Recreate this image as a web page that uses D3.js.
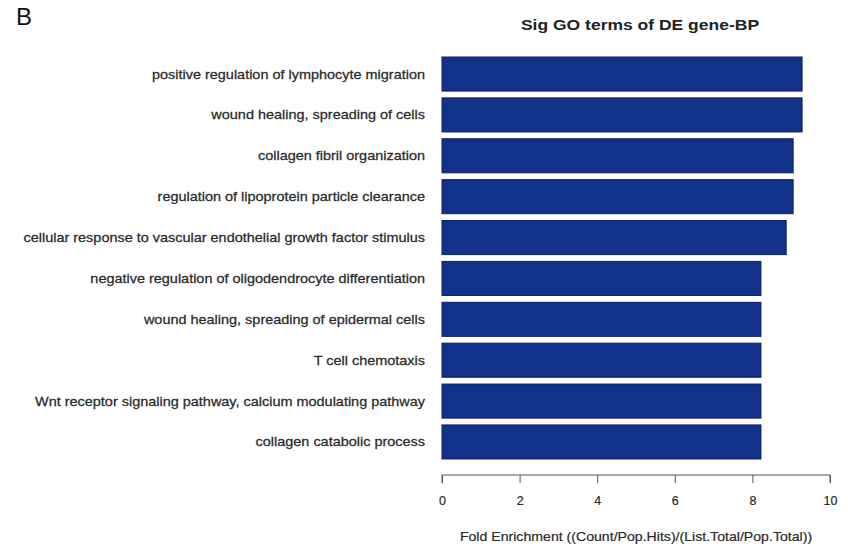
<!DOCTYPE html>
<html>
<head>
<meta charset="utf-8">
<script src="https://cdn.jsdelivr.net/npm/d3@7"></script>
<style>
  html, body { margin: 0; padding: 0; background: #fff; }
  svg { display: block; font-family: "Liberation Sans", Arial, sans-serif; }
</style>
</head>
<body>
<svg id="chart" width="848" height="550"></svg>
<script>
// GO biological process terms, top to bottom
const terms = [
  "positive regulation of lymphocyte migration",
  "wound healing, spreading of cells",
  "collagen fibril organization",
  "regulation of lipoprotein particle clearance",
  "cellular response to vascular endothelial growth factor stimulus",
  "negative regulation of oligodendrocyte differentiation",
  "wound healing, spreading of epidermal cells",
  "T cell chemotaxis",
  "Wnt receptor signaling pathway, calcium modulating pathway",
  "collagen catabolic process"
];
// Fold enrichment per term
const foldEnrichment = [9.28, 9.28, 9.05, 9.05, 8.87, 8.22, 8.22, 8.22, 8.22, 8.22];
const xTicks = [0, 2, 4, 6, 8, 10];

const svg = d3.select("#chart");

const plot = { left: 442, right: 830, top: 57, bottom: 459 };
const stretch = 1.13; // horizontal widening of the text glyphs

const x = d3.scaleLinear().domain([0, 10]).range([plot.left, plot.right]);
const y = d3.scaleBand()
  .domain(terms)
  .range([plot.top - 3.4, plot.bottom + 3.4])
  .paddingInner(0.1667)
  .paddingOuter(0.0833);

// place a text node at (px, py) with widened glyphs
function placeText(sel, px, py) {
  return sel.attr("transform", (d, i) => {
    const tx = typeof px === "function" ? px(d, i) : px;
    const ty = typeof py === "function" ? py(d, i) : py;
    return `translate(${tx},${ty}) scale(${stretch},1)`;
  });
}

// panel letter
svg.append("text")
  .attr("x", 16).attr("y", 25)
  .attr("font-size", 24)
  .attr("fill", "#111")
  .text("B");

// title
placeText(svg.append("text"), (plot.left + plot.right) / 2 + 4, 30)
  .attr("text-anchor", "middle")
  .attr("font-size", 15.5)
  .attr("font-weight", "bold")
  .attr("fill", "#222")
  .text("Sig GO terms of DE gene-BP");

// bars
svg.append("g")
  .selectAll("rect")
  .data(terms)
  .join("rect")
  .attr("x", x(0))
  .attr("y", d => y(d))
  .attr("width", (d, i) => x(foldEnrichment[i]) - x(0))
  .attr("height", y.bandwidth())
  .attr("fill", "#12318a")
  .attr("stroke", "#0b2063")
  .attr("stroke-width", 1);

// category labels
placeText(
  svg.append("g").selectAll("text").data(terms).join("text"),
  425,
  d => y(d) + y.bandwidth() / 2
)
  .attr("dy", "0.35em")
  .attr("text-anchor", "end")
  .attr("font-size", 12.8)
  .attr("fill", "#2a2a2a")
  .attr("stroke", "#2a2a2a")
  .attr("stroke-width", 0.25)
  .text(d => d);

// x axis
const axis = d3.axisBottom(x)
  .tickValues(xTicks)
  .tickFormat(d3.format("d"))
  .tickSize(8)
  .tickPadding(13);

const gx = svg.append("g")
  .attr("transform", "translate(0,475)")
  .call(axis);
gx.select(".domain").attr("stroke", "#555").attr("d", `M${x(0)},8V0H${x(10)}V8`);
gx.selectAll(".tick line").attr("stroke", "#555");
gx.selectAll(".tick text")
  .attr("font-size", 12.5)
  .attr("fill", "#2a2a2a")
  .attr("stroke", "#2a2a2a")
  .attr("stroke-width", 0.2)
  .attr("font-family", "Liberation Sans, Arial, sans-serif");

// x axis title
placeText(svg.append("text"), (plot.left + plot.right) / 2, 541)
  .attr("text-anchor", "middle")
  .attr("font-size", 12.5)
  .attr("fill", "#2a2a2a")
  .attr("stroke", "#2a2a2a")
  .attr("stroke-width", 0.2)
  .text("Fold Enrichment ((Count/Pop.Hits)/(List.Total/Pop.Total))");
</script>
</body>
</html>
